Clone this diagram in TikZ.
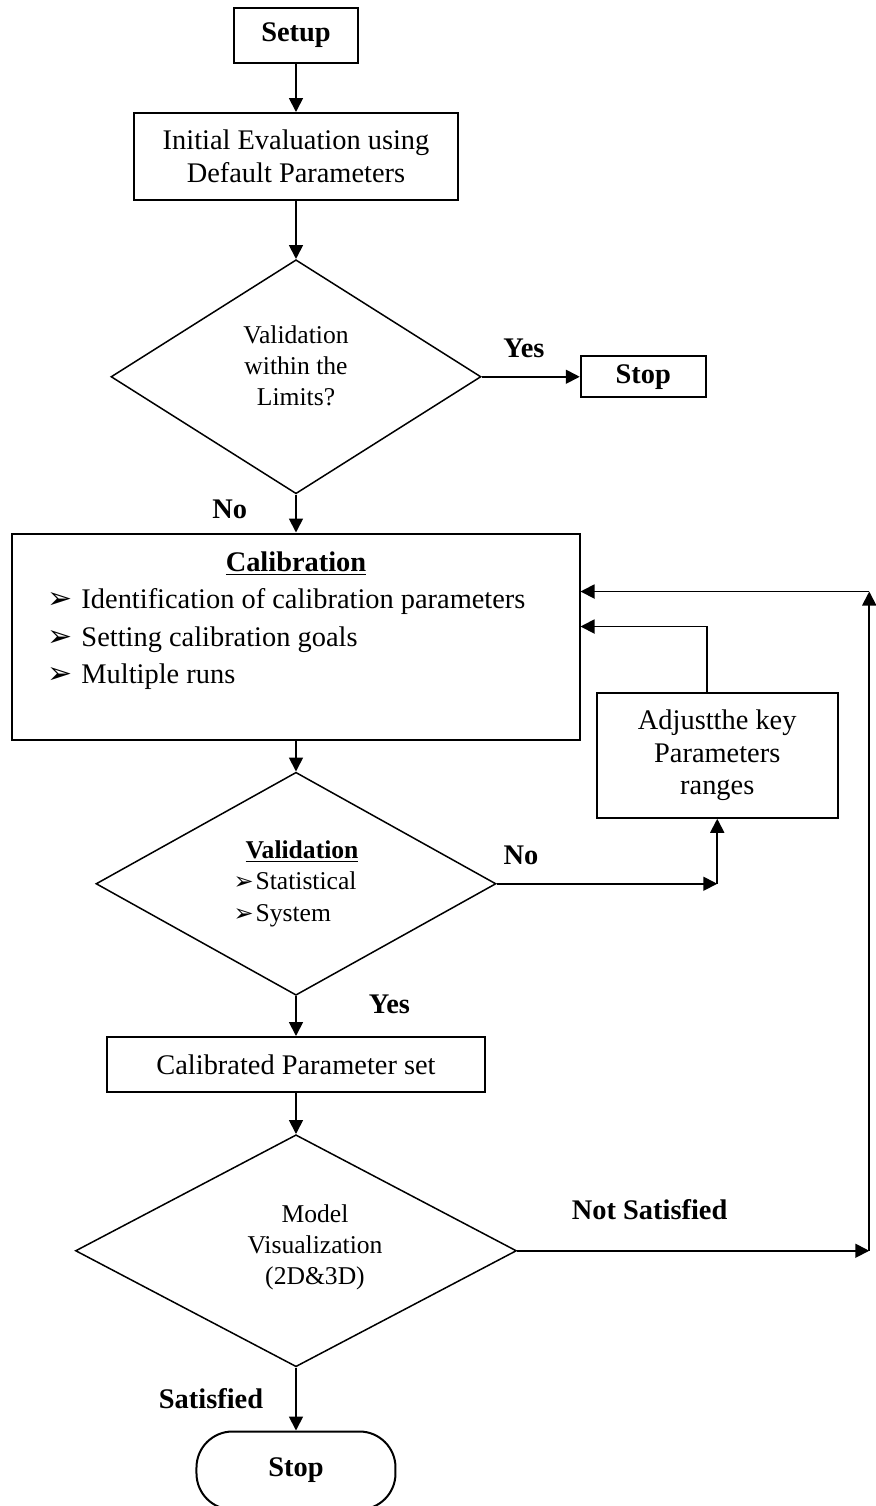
\documentclass[tikz,border=0pt]{standalone}
\usepackage{fontspec}
\setmainfont{Liberation Serif}
\newfontfamily\dingfont{DejaVu Sans}
\usetikzlibrary{arrows.meta,positioning,shapes.geometric}
\newcommand{\pointer}[2]{\makebox[#1][l]{\dingfont\fontsize{#2}{#2}\selectfont\char"27A2}}
\tikzset{
  stepbox/.style={
    draw=black,
    line width=1pt,
    inner sep=0pt,
    align=center,
    font=\fontsize{14.2pt}{16.4pt}\selectfont
  },
  decision/.style={
    diamond,
    draw=black,
    line width=0.75pt,
    shape aspect=1.8,
    inner sep=0pt,
    align=center,
    font=\fontsize{12.8pt}{15.6pt}\selectfont
  },
  terminal/.style={
    stepbox,
    rounded corners=18pt,
    font=\fontsize{14.2pt}{16.4pt}\selectfont\bfseries
  },
  lbl/.style={
    inner sep=0pt,
    font=\fontsize{14.2pt}{16.4pt}\selectfont\bfseries
  },
  arrow/.style={
    -{Triangle[length=7pt,width=7pt]},
    line width=0.9pt,
    draw=black
  }
}
\begin{document}
\begin{tikzpicture}[node distance=20pt and 20pt]
\useasboundingbox (-148pt,17.75pt) rectangle (289.5pt,-735.25pt);
\node[stepbox, minimum width=62pt, minimum height=27.5pt, font=\fontsize{14.2pt}{16.4pt}\selectfont\bfseries] (setup) at (0,0) {Setup};
\node[stepbox, minimum width=162pt, minimum height=43.5pt, below=24pt of setup] (init) {Initial Evaluation using\\Default Parameters};
\node[decision, minimum width=185pt, minimum height=117pt, text depth=11pt, below=29pt of init] (limits) {Validation\\within the\\Limits?};
\node[stepbox, minimum width=62.5pt, minimum height=20.5pt, font=\fontsize{14.2pt}{16.4pt}\selectfont\bfseries, right=49pt of limits] (stopa) {Stop};
\node[stepbox, minimum width=283.5pt, minimum height=103pt, below=19pt of limits] (calib) {\parbox[c][85pt][t]{248.5pt}{\fontsize{14.2pt}{18.75pt}\selectfont
  \centering\underline{\textbf{Calibration}}\par
  \raggedright
  \pointer{17pt}{15pt}Identification of calibration parameters\par
  \pointer{17pt}{15pt}Setting calibration goals\par
  \pointer{17pt}{15pt}Multiple runs}};
\node[decision, minimum width=200pt, minimum height=111.5pt, align=left, below=15.5pt of calib] (check) {\hspace*{6pt}\underline{\textbf{Validation}}\\
  \pointer{11pt}{12pt}Statistical\\
  \pointer{11pt}{12pt}System};
\node[stepbox, minimum width=120.5pt, minimum height=62.5pt, above right=32.5pt and 49.5pt of check.east] (adjust) {Adjustthe key\\Parameters\\ranges};
\node[stepbox, minimum width=188.5pt, minimum height=27.5pt, below=20pt of check] (calset) {Calibrated Parameter set};
\node[decision, minimum width=220.5pt, minimum height=116pt, text depth=6pt, below=20.5pt of calset] (model) {\hspace*{19pt}Model\\\hspace*{19pt}Visualization\\\hspace*{19pt}(2D\&3D)};
\node[terminal, minimum width=99.5pt, minimum height=39pt, below=31.5pt of model] (stopb) {Stop};

\draw[arrow] (setup) -- (init);
\draw[arrow] (init) -- (limits);
\draw[arrow] (limits) -- node[lbl, pos=0.43, above=9pt] (yesa) {Yes} (stopa);
\draw[arrow] (limits) -- node[lbl, pos=0.39, left=24pt] (noa) {No} (calib);
\draw[arrow] (calib) -- (check);
\coordinate (bendno) at (check.east -| adjust.south);
\draw[arrow] (check.east) -- node[lbl, pos=0.11, above=9pt] (nob) {No} (bendno);
\draw[arrow] (bendno) -- (adjust.south);
\draw[arrow] ([xshift=-5pt]adjust.north) |- ([yshift=5pt]calib.east);
\draw[arrow] (check) -- node[lbl, pos=0.2, right=36pt] (yesb) {Yes} (calset);
\draw[arrow] (calset) -- (model);
\coordinate (bendns) at ([xshift=176pt]model.east);
\coordinate (loopin) at ([yshift=22.5pt]calib.east);
\coordinate (bendtop) at (bendns |- loopin);
\draw[arrow] (model.east) -- node[lbl, pos=0.376, above=15pt] (notsat) {Not Satisfied} (bendns);
\draw[arrow] (bendns) -- (bendtop);
\draw[arrow] (bendtop) -- (loopin);
\draw[arrow] (model) -- node[lbl, pos=0.5, left=16pt] (sat) {Satisfied} (stopb);
\end{tikzpicture}
\end{document}
